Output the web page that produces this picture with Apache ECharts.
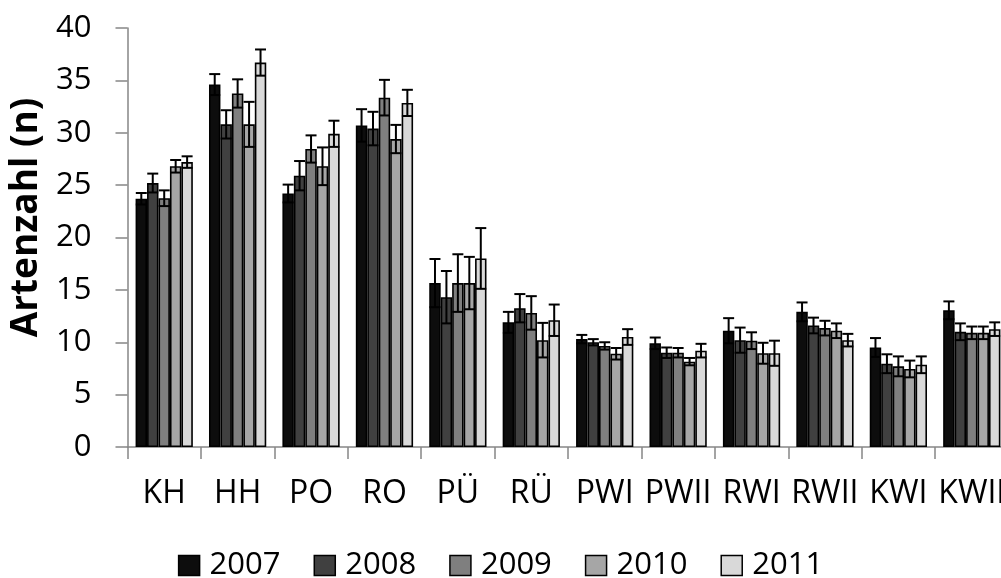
<!DOCTYPE html>
<html>
<head>
<meta charset="utf-8">
<script src="https://cdn.jsdelivr.net/npm/echarts@6/dist/echarts.min.js"></script>
<style>
  html, body { margin: 0; padding: 0; background: #fff; }
  #chart { width: 1001px; height: 578px; }
</style>
</head>
<body>
<div id="chart"></div>
<script>
// Sites (habitat types)
const categories = ['KH', 'HH', 'PO', 'RO', 'PÜ', 'RÜ', 'PWI', 'PWII', 'RWI', 'RWII', 'KWI', 'KWII'];
const years = ['2007', '2008', '2009', '2010', '2011'];

// Mean species count per site and year
const mean2007 = [23.7, 34.6, 24.2, 30.7, 15.65, 11.9, 10.3, 9.9, 11.1, 12.9, 9.5, 13.05];
const mean2008 = [25.2, 30.8, 25.9, 30.4, 14.3, 13.25, 10.0, 9.0, 10.2, 11.6, 7.95, 11.0];
const mean2009 = [23.75, 33.75, 28.45, 33.35, 15.65, 12.8, 9.65, 9.0, 10.15, 11.35, 7.7, 10.9];
const mean2010 = [26.8, 30.8, 26.8, 29.4, 15.65, 10.2, 8.9, 8.15, 8.95, 11.1, 7.45, 10.9];
const mean2011 = [27.2, 36.7, 29.9, 32.85, 18.0, 12.1, 10.5, 9.2, 8.95, 10.2, 7.85, 11.25];

// Error (± half-range of the whiskers)
const err2007 = [0.55, 1.0, 0.85, 1.55, 2.3, 1.0, 0.4, 0.55, 1.2, 0.9, 0.9, 0.85];
const err2008 = [0.9, 1.35, 1.4, 1.6, 2.5, 1.35, 0.3, 0.5, 1.2, 0.75, 0.9, 0.8];
const err2009 = [0.75, 1.35, 1.3, 1.7, 2.75, 1.6, 0.35, 0.45, 0.8, 0.7, 0.95, 0.6];
const err2010 = [0.6, 2.15, 1.8, 1.35, 2.5, 1.65, 0.55, 0.35, 1.0, 0.7, 0.8, 0.6];
const err2011 = [0.55, 1.25, 1.25, 1.25, 2.9, 1.5, 0.75, 0.65, 1.2, 0.6, 0.8, 0.65];

const means = [mean2007, mean2008, mean2009, mean2010, mean2011];
const errs = [err2007, err2008, err2009, err2010, err2011];
const colors = ['#0d0d0d', '#404040', '#7f7f7f', '#a6a6a6', '#d9d9d9'];

const CATEGORY_GAP = 0.22;
const FONT = '"Open Sans", "Liberation Sans", sans-serif';

const chart = echarts.init(document.getElementById('chart'), null, { renderer: 'canvas' });

const barSeries = years.map((y, i) => ({
  name: y,
  type: 'bar',
  data: means[i],
  barGap: '0%',
  barCategoryGap: (CATEGORY_GAP * 100) + '%',
  itemStyle: { color: colors[i], borderColor: '#000', borderWidth: 1.6 },
  emphasis: { disabled: true },
  z: 2
}));

// Whiskers drawn over each bar, centred on the bar's slot in the group
const errorSeries = years.map((y, i) => ({
  name: y + ' error',
  type: 'custom',
  data: means[i].map((m, k) => [k, m, errs[i][k]]),
  z: 10,
  silent: true,
  renderItem: function (params, api) {
    const k = api.value(0);
    const m = api.value(1);
    const e = api.value(2);
    const band = api.size([1, 0])[0];
    const bw = band * (1 - CATEGORY_GAP) / years.length;
    const offset = (i - (years.length - 1) / 2) * bw;
    const hi = api.coord([k, m + e]);
    const lo = api.coord([k, m - e]);
    const x = hi[0] + offset;
    const half = bw * 0.48;
    const style = { stroke: '#000', lineWidth: 2 };
    return {
      type: 'group',
      children: [
        { type: 'line', shape: { x1: x, y1: hi[1], x2: x, y2: lo[1] }, style },
        { type: 'line', shape: { x1: x - half, y1: hi[1], x2: x + half, y2: hi[1] }, style },
        { type: 'line', shape: { x1: x - half, y1: lo[1], x2: x + half, y2: lo[1] }, style }
      ]
    };
  }
}));

chart.setOption({
  animation: false,
  backgroundColor: '#fff',
  grid: { left: 127.5, right: -7.5, top: 28, bottom: 131, containLabel: false, outerBoundsMode: 'none' },
  legend: {
    data: years,
    bottom: -8,
    left: 'center',
    icon: 'rect',
    itemWidth: 21,
    itemHeight: 20,
    itemGap: 33,
    itemStyle: { borderColor: '#000', borderWidth: 1.5 },
    textStyle: { fontFamily: FONT, fontSize: 31, color: '#000', padding: [0, 0, 0, 5] }
  },
  xAxis: {
    type: 'category',
    data: categories,
    axisLine: { lineStyle: { color: '#868686', width: 1.5 } },
    axisTick: { show: true, length: 12, alignWithLabel: false, lineStyle: { color: '#868686', width: 1.5 } },
    axisLabel: { interval: 0, margin: 31, fontFamily: FONT, fontSize: 32, color: '#000' },
    splitLine: { show: false }
  },
  yAxis: {
    type: 'value',
    min: 0,
    max: 40,
    interval: 5,
    name: 'Artenzahl (n)',
    nameLocation: 'middle',
    nameGap: 82,
    nameTextStyle: { fontFamily: FONT, fontSize: 37, fontWeight: 'bold', color: '#000', padding: [0, 0, 0, 40] },
    axisLine: { show: true, lineStyle: { color: '#868686', width: 1.5 } },
    axisTick: { show: true, length: 12, lineStyle: { color: '#868686', width: 1.5 } },
    axisLabel: { margin: 36, fontFamily: FONT, fontSize: 31, color: '#000' },
    splitLine: { show: false }
  },
  series: barSeries.concat(errorSeries)
});
</script>
</body>
</html>
